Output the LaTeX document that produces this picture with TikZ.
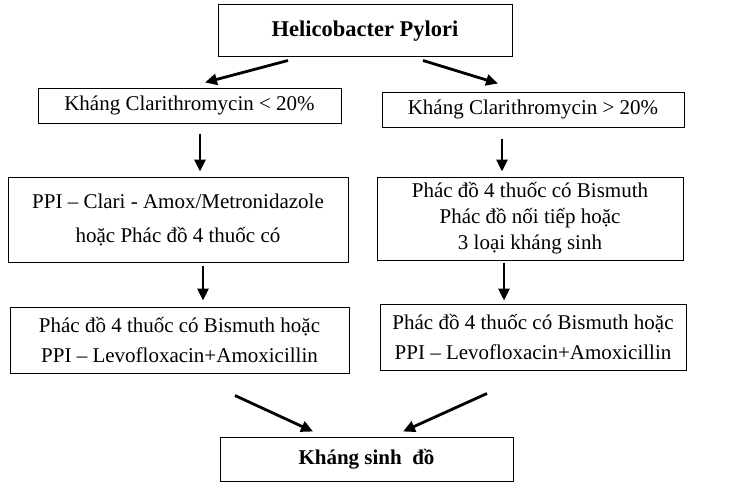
\documentclass[tikz,border=0pt]{standalone}
\usepackage{fontspec}
\setmainfont{Liberation Serif}
\usetikzlibrary{arrows.meta, positioning}

\begin{document}
\begin{tikzpicture}[x=1pt, y=-1pt, >={Triangle[length=12pt, width=11pt]},
    box/.style={draw, line width=1pt, inner sep=0pt, align=center, font=\fontsize{21}{27}\selectfont},
    arr/.style={->, line width=2.8pt}]
            \useasboundingbox (0,0) rectangle (730,487);
            \node[box, minimum width=294pt, minimum height=52pt, font=\fontsize{22.5}{27}\selectfont\bfseries] (0) at (365,31) {Helicobacter Pylori};
            \node[box, minimum width=303pt, minimum height=35pt] (1) at (189.5,105.5) {Kháng Clarithromycin < 20\%};
            \node[box, minimum width=302pt, minimum height=35pt] (2) at (533,109.5) {Kháng Clarithromycin > 20\%};
            \node[box, minimum width=340pt, minimum height=85pt, font=\fontsize{21}{34}\selectfont] (3) at (178,219.5) {PPI – Clari - Amox/Metronidazole\\hoặc Phác đồ 4 thuốc có};
            \node[box, minimum width=306pt, minimum height=83pt, font=\fontsize{21}{26}\selectfont] (4) at (530,218.5) {Phác đồ 4 thuốc có Bismuth\\Phác đồ nối tiếp hoặc\\3 loại kháng sinh};
            \node[box, minimum width=339pt, minimum height=66pt, font=\fontsize{21}{30}\selectfont] (5) at (179.5,340) {Phác đồ 4 thuốc có Bismuth hoặc\\PPI – Levofloxacin+Amoxicillin};
            \node[box, minimum width=306pt, minimum height=66pt, font=\fontsize{21}{30}\selectfont] (6) at (533,337) {Phác đồ 4 thuốc có Bismuth hoặc\\PPI – Levofloxacin+Amoxicillin};
            \node[box, minimum width=293pt, minimum height=44pt, font=\fontsize{21}{27}\selectfont\bfseries] (7) at (366.5,459) {Kháng sinh\ \ đồ};
            \draw[arr] ([xshift=-77pt, yshift=-3pt]0.south) -- ([xshift=15.5pt, yshift=5pt]1.north);
            \draw[arr] ([xshift=58pt, yshift=-3pt]0.south) -- ([xshift=-35pt, yshift=8pt]2.north);
            \draw[arr] ([xshift=10.5pt, yshift=-10pt]1.south) -- ([xshift=22pt, yshift=5pt]3.north);
            \draw[arr] ([xshift=-31pt, yshift=-11pt]2.south) -- ([xshift=-28pt, yshift=5pt]4.north);
            \draw[arr] ([xshift=25pt, yshift=-3pt]3.south) -- ([xshift=23.5pt, yshift=6pt]5.north);
            \draw[arr] ([xshift=-26pt, yshift=-2pt]4.south) -- ([xshift=-29pt, yshift=3pt]6.north);
            \draw[arr] ([xshift=55.5pt, yshift=-22pt]5.south) -- ([xshift=-53.5pt, yshift=5pt]7.north);
            \draw[arr] ([xshift=-46pt, yshift=-23pt]6.south) -- ([xshift=36.5pt, yshift=5pt]7.north);
        \end{tikzpicture}
\end{document}
